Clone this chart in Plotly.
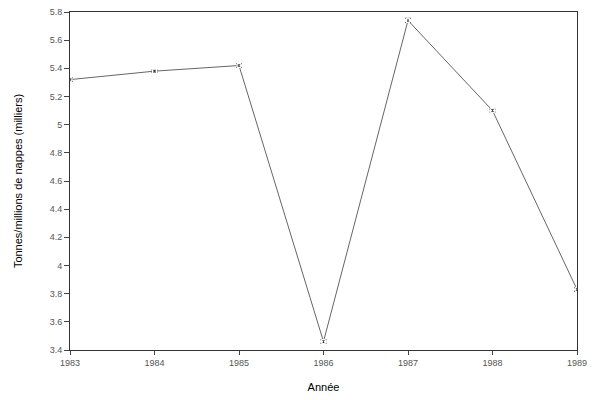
import plotly.graph_objects as go

annees = [1983, 1984, 1985, 1986, 1987, 1988, 1989]
tonnes = [5.32, 5.38, 5.42, 3.46, 5.74, 5.10, 3.83]
erreurs = [0.012, 0.008, 0.012, 0.012, 0.015, 0.010, 0.012]
y_ticks = [3.4, 3.6, 3.8, 4, 4.2, 4.4, 4.6, 4.8, 5, 5.2, 5.4, 5.6, 5.8]
y_labels = ["3.4", "3.6", "3.8", "4", "4.2", "4.4", "4.6", "4.8", "5", "5.2", "5.4", "5.6", "5.8"]

trace = go.Scatter(
    x=annees,
    y=tonnes,
    mode='lines+markers',
    line=dict(color='#666666', width=1),
    marker=dict(size=4, color='white', symbol='square-open', line=dict(color='#222222', width=1)),
    error_y=dict(type='data', array=erreurs, color='#222222', thickness=1, width=3),
    cliponaxis=False,
)

layout = go.Layout(
    template='none',
    width=600,
    height=400,
    margin=dict(l=70, r=23, t=12, b=50),
    paper_bgcolor='white',
    plot_bgcolor='white',
    showlegend=False,
    font=dict(family='Liberation Sans, Arial', color='#111111'),
    xaxis=dict(
        range=[1983, 1989],
        tickvals=annees,
        ticktext=[str(a) for a in annees],
        ticks='outside', ticklen=4, tickcolor='#444444',
        showline=True, linecolor='#333333', linewidth=1, mirror=True,
        showgrid=False, zeroline=False, automargin=False,
        tickfont=dict(size=9, color='#555555'),
        title=dict(text='Année', font=dict(size=11, color='#000000'), standoff=16),
    ),
    yaxis=dict(
        range=[3.4, 5.8],
        tickvals=y_ticks,
        ticktext=y_labels,
        ticks='outside', ticklen=5, tickcolor='#444444',
        showline=True, linecolor='#333333', linewidth=1, mirror=True,
        showgrid=False, zeroline=False, automargin=False,
        tickfont=dict(size=9, color='#555555'),
        title=dict(text='Tonnes/millions de nappes (milliers)', font=dict(size=11, color='#000000'), standoff=24),
    ),
)

fig = go.Figure(data=[trace], layout=layout)
# drop the default 8px body margin so the figure fills the window
fig.write_html("out.html", config={'displayModeBar': False},
               post_script="document.body.style.margin='0';")
